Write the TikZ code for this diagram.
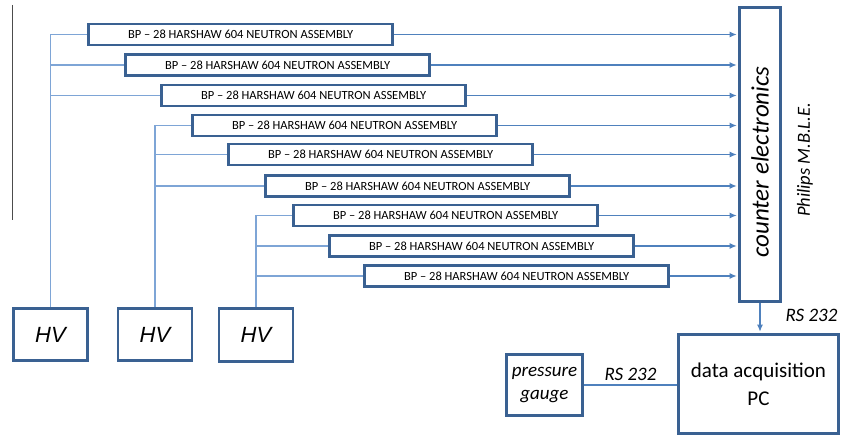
\documentclass[tikz,border=0pt]{standalone}
\usepackage{fontspec}
\setmainfont{Carlito}
\newfontfamily\hvfont{Liberation Sans}
\usetikzlibrary{arrows.meta, positioning, calc}
\definecolor{boxblue}{HTML}{3A6192}
\definecolor{busblue}{HTML}{7EA5D6}
\definecolor{sigblue}{HTML}{4F81BD}

\begin{document}
\begin{tikzpicture}[x=1pt, y=-1pt,
    box/.style={draw=boxblue, line width=2.6pt, fill=white, inner sep=0pt},
    asm/.style={box, anchor=west, minimum width=304pt, minimum height=21pt, font=\fontsize{12.5}{14}\selectfont},
    hv/.style={box, minimum width=74pt, minimum height=52pt, font=\hvfont\itshape\fontsize{22}{26}\selectfont},
    bus/.style={draw=busblue, line width=1.4pt},
    sig/.style={draw=sigblue, line width=1.2pt, shorten >=1.3pt, -{Latex[length=7pt,width=6pt]}},
    lbl/.style={font=\itshape\fontsize{19}{22}\selectfont, inner sep=1pt}]
  \useasboundingbox (0,0) rectangle (842,438);

  % cursor line at the left
  \draw[gray!60!black, line width=1pt] (12,5) -- (12,220);

  % detector assemblies
  \node[asm] (a1) at (87.3,34.5)  {BP – 28 HARSHAW 604 NEUTRON ASSEMBLY};
  \node[asm] (a2) at (124.3,65)   {BP – 28 HARSHAW 604 NEUTRON ASSEMBLY};
  \node[asm] (a3) at (160.3,95.5) {BP – 28 HARSHAW 604 NEUTRON ASSEMBLY};
  \node[asm] (a4) at (191.3,125.5) {BP – 28 HARSHAW 604 NEUTRON ASSEMBLY};
  \node[asm] (a5) at (227.3,154.5) {BP – 28 HARSHAW 604 NEUTRON ASSEMBLY};
  \node[asm] (a6) at (264.3,186)  {BP – 28 HARSHAW 604 NEUTRON ASSEMBLY};
  \node[asm] (a7) at (292.3,215.5) {BP – 28 HARSHAW 604 NEUTRON ASSEMBLY};
  \node[asm] (a8) at (328.3,246)  {BP – 28 HARSHAW 604 NEUTRON ASSEMBLY};
  \node[asm] (a9) at (363.3,276)  {BP – 28 HARSHAW 604 NEUTRON ASSEMBLY};

  % high voltage supplies
  \node[hv] (hv1) at (50.5,334.5) {HV};
  \node[hv] (hv2) at (155,334.5)  {HV};
  \node[hv, minimum height=53pt] (hv3) at (256,335) {HV};

  % counter and pc
  \node[box, minimum width=41.4pt, minimum height=294.4pt] (ce) at (760,154.5) {};
  \node[rotate=90, font=\itshape\fontsize{25}{28}\selectfont] (cetext) at (760,162) {counter electronics};
  \node[rotate=90, font=\itshape\fontsize{18.5}{22}\selectfont] (mble) at (805,160) {Philips M.B.L.E.};
  \node[box, minimum width=160.4pt, minimum height=99.4pt, align=center,
        font=\fontsize{21}{28}\selectfont] (pc) at (758.5,384) {data acquisition\\PC};
  \node[box, minimum width=76.4pt, minimum height=61.4pt, align=center,
        font=\itshape\fontsize{19}{23}\selectfont] (pg) at (544.5,385) {pressure\\gauge};

  % hv buses
  \draw[bus] (hv1.north) -- (hv1.north |- a1.west) -- (a1.west);
  \draw[bus] (hv1.north |- a2.west) -- (a2.west);
  \draw[bus] (hv1.north |- a3.west) -- (a3.west);
  \draw[bus] (hv2.north) -- (hv2.north |- a4.west) -- (a4.west);
  \draw[bus] (hv2.north |- a5.west) -- (a5.west);
  \draw[bus] (hv2.north |- a6.west) -- (a6.west);
  \draw[bus] (hv3.north) -- (hv3.north |- a7.west) -- (a7.west);
  \draw[bus] (hv3.north |- a8.west) -- (a8.west);
  \draw[bus] (hv3.north |- a9.west) -- (a9.west);

  % signals to counter
  \draw[sig] (a1.east) -- (a1.east -| ce.west);
  \draw[sig] (a2.east) -- (a2.east -| ce.west);
  \draw[sig] (a3.east) -- (a3.east -| ce.west);
  \draw[sig] (a4.east) -- (a4.east -| ce.west);
  \draw[sig] (a5.east) -- (a5.east -| ce.west);
  \draw[sig] (a6.east) -- (a6.east -| ce.west);
  \draw[sig] (a7.east) -- (a7.east -| ce.west);
  \draw[sig] (a8.east) -- (a8.east -| ce.west);
  \draw[sig] (a9.east) -- (a9.east -| ce.west);

  \draw[sig] (ce.south) -- node[lbl, right=24pt, yshift=3pt] (rs1) {RS 232} (ce.south |- pc.north);
  \draw[draw=sigblue, line width=1.2pt] (pg.east) -- node[lbl, above=3pt] (rs2) {RS 232} (pg.east -| pc.west);
\end{tikzpicture}
\end{document}
